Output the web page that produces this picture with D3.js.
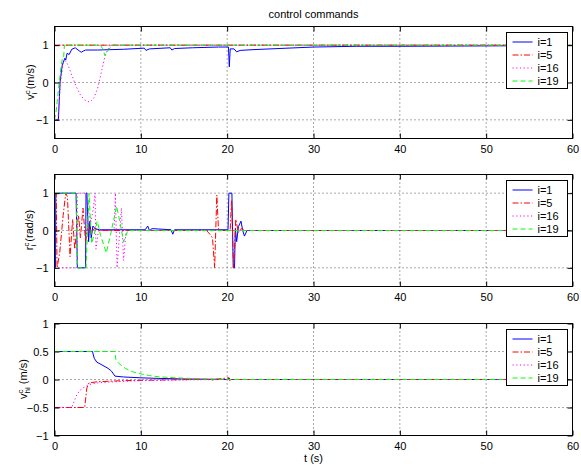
<!DOCTYPE html>
<html>
<head>
<meta charset="utf-8">
<title>control commands</title>
<script src="https://d3js.org/d3.v7.min.js"></script>
<style>
body { margin: 0; background: #fff; }
text { font-family: "Liberation Sans", Arial, Helvetica, sans-serif; font-size: 11px; fill: #000; }
.grid line { stroke: #555; stroke-dasharray: 1,3; }
</style>
</head>
<body>
<div id="chart"></div>
<script>
// legend names, one per robot
var names = ["i=1", "i=5", "i=16", "i=19"];
var xTicks = [0, 10, 20, 30, 40, 50, 60];
var vTicks = [-1, 0, 1];
var rTicks = [-1, 0, 1];
var hTicks = [-1, -0.5, 0, 0.5, 1];

// v_i^c (m/s)   [t, value]
var v1 = [[0.15,-1],[0.45,-1],[0.65,0.03],[0.9,0.47],[1.2,0.65],[1.3,0.6],[1.45,0.78],[1.7,0.75],[2.0,0.89],[2.4,0.93],
  [2.85,0.85],[3.1,0.81],[3.4,0.85],[3.6,0.87],[5,0.87],[8,0.89],[10.4,0.92],[10.6,0.86],[11,0.9],[13.4,0.93],[13.6,0.87],
  [13.9,0.91],[16,0.93],[19,0.95],[20.15,0.95],[20.25,0.42],[20.35,0.9],[20.8,0.9],[21.1,0.82],[21.5,0.86],[23,0.88],
  [26,0.91],[30,0.95],[35,0.97],[40,0.97],[50,0.98],[60,0.99]];
var v5 = [[0,1],[60,1]];
var v16 = [[0,-1],[0.4,-1],[0.7,0],[1.0,0.5],[1.3,0.58],[1.6,0.45],[2.0,0.2],[2.5,-0.1],[3.0,-0.33],[3.5,-0.47],[4.1,-0.53],
  [4.6,-0.4],[5.0,-0.15],[5.5,0.35],[5.9,0.75],[6.2,0.9],[6.6,1],[60,1]];
var v19 = [[0,-1],[0.2,-0.75],[0.5,-0.1],[0.75,0.4],[0.9,0.62],[1.05,0.65],[1.15,1],[5.3,1],[5.6,0.9],[5.85,0.72],
  [6.2,0.85],[6.5,0.95],[6.8,1],[60,1]];

// r_i^c (rad/s)
var r1 = [[0,-1],[0.12,-1],[0.15,1],[2.5,1],[2.65,-1],[3.6,-1],[3.65,1],[3.75,1],[3.95,-0.3],[4.1,0.25],[4.25,-0.2],
  [4.45,0.12],[4.7,0.05],[5.2,0.02],[10.5,0.02],[10.8,0.12],[11.0,0.0],[11.3,0.05],[13.5,0.02],[13.7,-0.1],[13.9,0.02],
  [20.1,0.02],[20.2,1],[20.55,1],[20.7,-1],[20.85,-1],[20.95,0.05],[21.1,-0.3],[21.3,0.1],[21.6,0.25],[21.8,0.0],
  [22.0,-0.15],[22.3,0.0],[60,0]];
var r5 = [[0,1],[0.2,1],[0.3,-1],[0.6,-0.6],[1.0,0.4],[1.3,1],[1.5,0.9],[1.8,-0.7],[2.1,0.3],[2.35,-0.5],[2.6,0.1],
  [2.8,0.4],[3.0,-0.2],[3.3,0.6],[3.6,-0.3],[3.9,0.2],[4.2,-0.1],[4.6,0.05],[5.2,0.0],[17.6,0],[18.0,-0.1],[18.3,-0.2],
  [18.55,-1],[18.8,0.95],[19.0,0.0],[20.35,0],[20.5,0.8],[20.75,-1],[21.0,0.3],[21.3,-0.05],[21.6,0.05],[22,0],[60,0]];
var r16 = [[0,-1],[2.6,-1],[2.65,1],[3.7,1],[3.9,0.6],[4.2,0.2],[4.5,0.6],[4.7,1],[4.8,-0.5],[5.1,0],[6.9,0],[7.05,1],
  [7.25,-1],[7.5,-0.2],[7.75,0.6],[8.0,-0.8],[8.3,0],[60,0]];
var r19 = [[0,1],[2.5,1],[2.65,-1],[3.65,-1],[4.0,1],[4.15,0.3],[4.3,-0.35],[4.6,-0.1],[4.95,0.25],[5.3,-0.1],[6.0,-0.6],
  [6.5,-0.1],[7.2,0.65],[7.6,0.2],[8.0,-0.3],[8.5,0],[60,0]];

// v_hi^c (m/s)
var h1 = [[0,0.5],[4.4,0.5],[4.6,0.38],[4.9,0.31],[5.5,0.26],[6.2,0.2],[6.6,0.15],[7.0,0.06],[8,0.045],[10,0.03],
  [12,0.02],[15,0.01],[18,0.005],[20.1,0],[20.2,0.03],[20.3,0],[60,0]];
var h5 = [[0,-0.5],[3.5,-0.5],[3.6,-0.35],[3.75,-0.15],[4.0,-0.06],[5,-0.04],[8,-0.02],[12,-0.01],[16,0],[18.2,0],
  [18.3,-0.03],[18.4,0],[20.2,0.03],[20.3,-0.02],[20.4,0],[60,0]];
var h16 = [[0,-0.5],[2.0,-0.5],[2.2,-0.42],[2.5,-0.3],[2.9,-0.2],[3.3,-0.15],[4.0,-0.09],[5,-0.06],[7,-0.04],[10,-0.02],
  [14,-0.01],[20,0],[60,0]];
var h19 = [[0,0.5],[7.0,0.5],[7.1,0.36],[7.5,0.28],[8.2,0.2],[9,0.14],[10,0.1],[11,0.07],[12,0.05],[14,0.03],
  [17,0.01],[20,0],[60,0]];

var colors = ["#0000ff", "#ff0000", "#ff00ff", "#00ff00"];
var dashes = [null, "6,2,1.5,2", "1.2,2.5", "5,3"];

var W = 581, H = 468;
var svg = d3.select("#chart").append("svg").attr("width", W).attr("height", H);
var x = d3.scaleLinear().domain([0, 60]).range([54.5, 572.5]);
var fmt = function(d) { return (d < 0 ? "\u2212" : "") + Math.abs(d); };

var panels = [
  {top: 26.5, bottom: 138.5, dom: [-1.5, 1.5], ticks: vTicks, series: [v1, v5, v16, v19],
   lab: {x: 34, y: 82, main: "v", sup: "c", sub: "i", unit: " (m/s)"}},
  {top: 174.5, bottom: 286.5, dom: [-1.5, 1.5], ticks: rTicks, series: [r1, r5, r16, r19],
   lab: {x: 33, y: 230, main: "r", sup: "c", sub: "i", unit: " (rad/s)"}},
  {top: 323.5, bottom: 435.5, dom: [-1, 1], ticks: hTicks, series: [h1, h5, h16, h19],
   lab: {x: 27, y: 379, main: "v", sup: "c", sub: "hi", unit: " (m/s)"}}
];

panels.forEach(function(p, k) {
  var y = d3.scaleLinear().domain(p.dom).range([p.bottom, p.top]);
  var g = svg.append("g");

  // dotted grid
  var grid = g.append("g").attr("class", "grid");
  grid.selectAll("line.gx").data(xTicks.slice(1, -1)).enter().append("line")
    .attr("x1", d => x(d)).attr("x2", d => x(d)).attr("y1", p.top).attr("y2", p.bottom);
  grid.selectAll("line.gy").data(p.ticks.filter(d => d > p.dom[0] && d < p.dom[1])).enter().append("line")
    .attr("x1", x(0)).attr("x2", x(60)).attr("y1", d => y(d)).attr("y2", d => y(d));

  // series
  var line = d3.line().x(d => x(d[0])).y(d => y(d[1]));
  g.selectAll("path.s").data(p.series).enter().append("path")
    .attr("d", line)
    .attr("fill", "none")
    .attr("stroke", (d, i) => colors[i])
    .attr("stroke-width", 1)
    .attr("stroke-dasharray", (d, i) => dashes[i]);

  // axes, ticks inside on all sides
  var ax = function(a) { return a.tickSizeInner(-5).tickSizeOuter(0); };
  g.append("g").attr("transform", "translate(0," + p.bottom + ")")
    .call(ax(d3.axisBottom(x).tickValues(xTicks).tickFormat(fmt)).tickPadding(7));
  g.append("g").attr("transform", "translate(0," + p.top + ")")
    .call(ax(d3.axisTop(x).tickValues(xTicks).tickFormat("")));
  g.append("g").attr("transform", "translate(" + x(0) + ",0)")
    .call(ax(d3.axisLeft(y).tickValues(p.ticks).tickFormat(fmt)).tickPadding(6));
  g.append("g").attr("transform", "translate(" + x(60) + ",0)")
    .call(ax(d3.axisRight(y).tickValues(p.ticks).tickFormat("")));
  g.selectAll(".domain").remove();
  g.selectAll(".tick text").attr("font-size", 11).attr("font-family", null);
  g.append("rect").attr("x", x(0)).attr("y", p.top)
    .attr("width", x(60) - x(0)).attr("height", p.bottom - p.top)
    .attr("fill", "none").attr("stroke", "#000");

  // y label
  var t = g.append("text").attr("text-anchor", "middle")
    .attr("transform", "translate(" + p.lab.x + "," + p.lab.y + ") rotate(-90)");
  t.append("tspan").text(p.lab.main);
  t.append("tspan").attr("font-size", 8).attr("dy", -4.5).text(p.lab.sup);
  t.append("tspan").attr("font-size", 8).attr("dx", -4).attr("dy", 7.5).text(p.lab.sub);
  t.append("tspan").attr("dy", -3).text(p.lab.unit);

  // legend
  var lg = g.append("g").attr("transform", "translate(506.5," + (p.top + 6) + ")");
  lg.append("rect").attr("width", 61).attr("height", 56).attr("fill", "#fff").attr("stroke", "#000");
  var row = lg.selectAll("g.row").data(names).enter().append("g")
    .attr("transform", (d, i) => "translate(0," + (9.5 + 13 * i) + ")");
  row.append("line").attr("x1", 6).attr("x2", 26)
    .attr("stroke", (d, i) => colors[i]).attr("stroke-dasharray", (d, i) => dashes[i]);
  row.append("text").attr("x", 31).attr("dy", "0.35em").text(d => d);
});

svg.append("text").attr("x", 313.5).attr("y", 18).attr("text-anchor", "middle").text("control commands");
svg.append("text").attr("x", 313.5).attr("y", 462).attr("text-anchor", "middle").text("t (s)");
</script>
</body>
</html>
